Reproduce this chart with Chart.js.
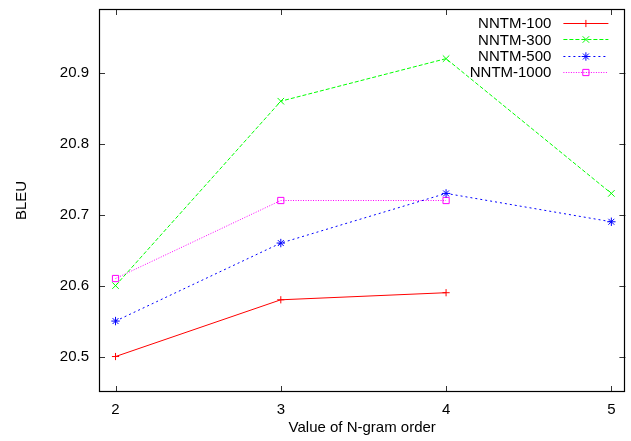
<!DOCTYPE html>
<html><head><meta charset="utf-8">
<script src="https://cdn.jsdelivr.net/npm/chart.js@4/dist/chart.umd.min.js"></script>
<style>html,body{margin:0;padding:0;background:#fff}#wrap{width:631px;height:441px}</style>
</head><body><div id="wrap"><canvas id="c" width="631" height="441"></canvas></div>
<script>
// ---- data ----
const ngramOrder = [2, 3, 4, 5];
const seriesNames = ['NNTM-100', 'NNTM-300', 'NNTM-500', 'NNTM-1000'];
const nntm100 = [20.50, 20.58, 20.59];
const nntm300 = [20.60, 20.86, 20.92, 20.73];
const nntm500 = [20.55, 20.66, 20.73, 20.69];
const nntm1000 = [20.61, 20.72, 20.72];
const xTickValues = [2, 3, 4, 5];
const yTickValues = [20.5, 20.6, 20.7, 20.8, 20.9];
const xTitle = 'Value of N-gram order';
const yTitle = 'BLEU';

const FONT = {family: '"Liberation Sans", Arial, sans-serif', size: 15};
const toPts = vals => vals.map((v, i) => ({x: ngramOrder[i], y: v}));

const styles = [
  {color: '#ff0000', dash: [], pointStyle: 'cross', r: 3.6},
  {color: '#00ff00', dash: [4, 2], pointStyle: 'crossRot', r: 4.6},
  {color: '#0000ff', dash: [2, 3], pointStyle: 'star', r: 4.2},
  {color: '#ff00ff', dash: [1, 1.5], pointStyle: 'rect', r: 4.4}
];
const allSeries = [nntm100, nntm300, nntm500, nntm1000];

const datasets = allSeries.map((vals, i) => ({
  label: seriesNames[i],
  data: toPts(vals),
  borderColor: styles[i].color,
  backgroundColor: 'rgba(0,0,0,0)',
  borderWidth: 1,
  borderDash: styles[i].dash,
  pointStyle: styles[i].pointStyle,
  pointRadius: styles[i].r,
  pointBorderColor: styles[i].color,
  pointBackgroundColor: 'rgba(0,0,0,0)',
  pointBorderWidth: 1,
  tension: 0,
  fill: false
}));

function drawMarker(ctx, style, r, x, y, color) {
  ctx.save();
  ctx.strokeStyle = color; ctx.lineWidth = 1; ctx.setLineDash([]);
  ctx.beginPath();
  const d = r * Math.SQRT1_2;
  if (style === 'cross' || style === 'star') {
    ctx.moveTo(x - r, y); ctx.lineTo(x + r, y);
    ctx.moveTo(x, y - r); ctx.lineTo(x, y + r);
  }
  if (style === 'crossRot' || style === 'star') {
    ctx.moveTo(x - d, y - d); ctx.lineTo(x + d, y + d);
    ctx.moveTo(x - d, y + d); ctx.lineTo(x + d, y - d);
  }
  if (style === 'rect') {
    ctx.rect(x - d, y - d, 2 * d, 2 * d);
  }
  ctx.stroke();
  ctx.restore();
}

const framePlugin = {
  id: 'frame',
  afterDatasetsDraw(chart) {
    const {ctx, chartArea: a, scales} = chart;
    ctx.save();
    // ticks (inward, mirrored)
    ctx.strokeStyle = '#333'; ctx.lineWidth = 1;
    ctx.beginPath();
    yTickValues.forEach(v => {
      const y = Math.round(scales.y.getPixelForValue(v)) + 0.5;
      ctx.moveTo(a.left, y); ctx.lineTo(a.left + 6, y);
      ctx.moveTo(a.right, y); ctx.lineTo(a.right - 6, y);
    });
    xTickValues.forEach(v => {
      const x = Math.round(scales.x.getPixelForValue(v)) + 0.5;
      ctx.moveTo(x, a.bottom); ctx.lineTo(x, a.bottom - 6);
      ctx.moveTo(x, a.top); ctx.lineTo(x, a.top + 6);
    });
    ctx.stroke();
    // frame
    ctx.strokeStyle = '#000'; ctx.lineWidth = 1.2;
    ctx.strokeRect(Math.round(a.left) + 0.5, Math.round(a.top) + 0.5,
      Math.round(a.right - a.left) - 1, Math.round(a.bottom - a.top) - 1);
    // legend
    ctx.font = FONT.size + 'px ' + FONT.family;
    ctx.textAlign = 'right'; ctx.textBaseline = 'middle';
    chart.data.datasets.forEach((ds, i) => {
      const y = a.top + 14 + i * 16.4;
      ctx.fillStyle = '#000';
      ctx.fillText(ds.label, a.right - 74, y + 1);
      ctx.save();
      ctx.strokeStyle = ds.borderColor; ctx.lineWidth = 1;
      ctx.setLineDash(ds.borderDash);
      ctx.beginPath();
      ctx.moveTo(a.right - 62, Math.round(y) + 0.5);
      ctx.lineTo(a.right - 17, Math.round(y) + 0.5);
      ctx.stroke();
      ctx.restore();
      drawMarker(ctx, ds.pointStyle, ds.pointRadius, a.right - 39.5, Math.round(y) + 0.5, ds.borderColor);
    });
    ctx.restore();
  }
};

new Chart(document.getElementById('c'), {
  type: 'line',
  data: {datasets},
  plugins: [framePlugin],
  options: {
    responsive: false,
    devicePixelRatio: 1,
    animation: false,
    layout: {padding: {top: 9, right: 4, left: 0, bottom: 0}},
    plugins: {legend: {display: false}, tooltip: {enabled: false}},
    scales: {
      x: {
        type: 'linear', min: 1.9, max: 5.085,
        grid: {display: false, drawTicks: false},
        border: {display: false},
        ticks: {padding: 9, font: FONT, color: '#000', maxRotation: 0,
                callback: v => String(v)},
        title: {display: true, text: xTitle, font: FONT, color: '#000', padding: {top: 4, bottom: 4}},
        afterBuildTicks: s => { s.ticks = xTickValues.map(v => ({value: v})); },
        afterFit: s => { s.height = 49; s.paddingLeft = 0; s.paddingRight = 0; }
      },
      y: {
        type: 'linear', min: 20.45, max: 20.99,
        grid: {display: false, drawTicks: false},
        border: {display: false},
        ticks: {padding: 10, font: FONT, color: '#000',
                callback: v => Number(v).toFixed(1)},
        title: {display: true, text: yTitle, font: FONT, color: '#000', padding: {top: 13, bottom: 13}},
        afterBuildTicks: s => { s.ticks = yTickValues.map(v => ({value: v})); },
        afterFit: s => { s.width = 99; s.paddingTop = 0; s.paddingBottom = 0; }
      }
    }
  }
});
</script></body></html>
